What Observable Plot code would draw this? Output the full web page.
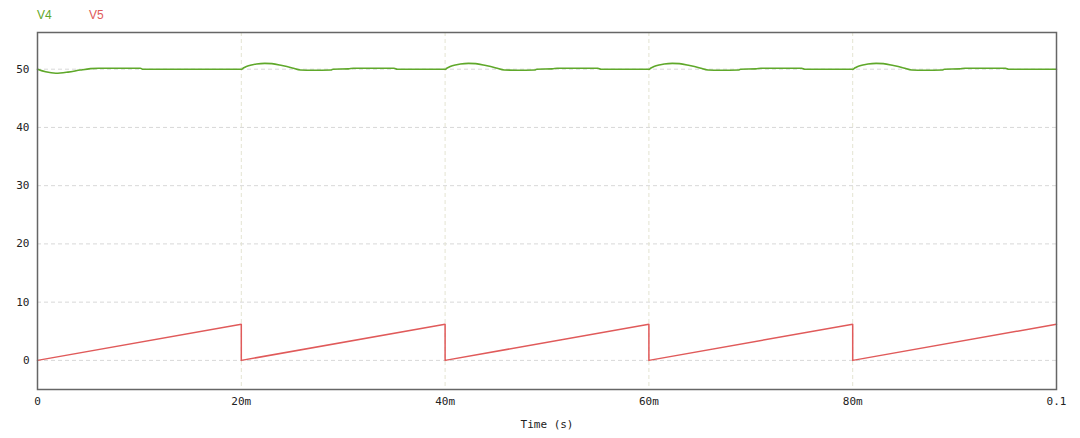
<!DOCTYPE html>
<html><head><meta charset="utf-8">
<script src="https://cdn.jsdelivr.net/npm/d3@7"></script>
<script src="https://cdn.jsdelivr.net/npm/@observablehq/plot@0.6"></script>
<style>
body{margin:0;background:#fff;}
#legend{height:26px;position:relative;font-family:"Liberation Sans","DejaVu Sans",sans-serif;font-size:12px;}
#legend span{position:absolute;top:8px;}
</style></head>
<body>
<div id="legend"></div>
<div id="chart"></div>
<script>
const seriesNames = ["V4", "V5"];
const seriesColors = ["#5fa82a", "#e05a5a"];
const xTicks = [0, 0.02, 0.04, 0.06, 0.08, 0.1];
const xTickLabels = ["0", "20m", "40m", "60m", "80m", "0.1"];
const yTicks = [0, 10, 20, 30, 40, 50];
const xLabel = "Time (s)";

// V4 (time s, volts)
const v4Time = [
  0, 0.0008, 0.0018, 0.003, 0.0042, 0.0052, 0.006, 0.0101, 0.0103, 0.02,
  0.0202, 0.0205, 0.021, 0.0215, 0.0223, 0.023, 0.024, 0.025, 0.0258, 0.027, 0.0288, 0.029, 0.0305, 0.031, 0.035, 0.0353, 0.04,
  0.0402, 0.0405, 0.041, 0.0415, 0.0423, 0.043, 0.044, 0.045, 0.0458, 0.047, 0.0488, 0.049, 0.0505, 0.051, 0.055, 0.0553, 0.06,
  0.0602, 0.0605, 0.061, 0.0615, 0.0623, 0.063, 0.064, 0.065, 0.0658, 0.067, 0.0688, 0.069, 0.0705, 0.071, 0.075, 0.0753, 0.08,
  0.0802, 0.0805, 0.081, 0.0815, 0.0823, 0.083, 0.084, 0.085, 0.0858, 0.087, 0.0888, 0.089, 0.0905, 0.091, 0.095, 0.0953, 0.1
];
const v4Value = [
  50.0, 49.55, 49.3, 49.5, 49.85, 50.1, 50.17, 50.17, 50.0, 50.0,
  50.2, 50.45, 50.72, 50.9, 51.0, 50.95, 50.62, 50.22, 49.86, 49.82, 49.86, 50.0, 50.05, 50.16, 50.16, 50.0, 50.0,
  50.2, 50.45, 50.72, 50.9, 51.0, 50.95, 50.62, 50.22, 49.86, 49.82, 49.86, 50.0, 50.05, 50.16, 50.16, 50.0, 50.0,
  50.2, 50.45, 50.72, 50.9, 51.0, 50.95, 50.62, 50.22, 49.86, 49.82, 49.86, 50.0, 50.05, 50.16, 50.16, 50.0, 50.0,
  50.2, 50.45, 50.72, 50.9, 51.0, 50.95, 50.62, 50.22, 49.86, 49.82, 49.86, 50.0, 50.05, 50.16, 50.16, 50.0, 50.0
];

// V5 sawtooth (time s, volts)
const v5Time = [0, 0.02, 0.02, 0.04, 0.04, 0.06, 0.06, 0.08, 0.08, 0.1];
const v5Value = [0, 6.2, 0, 6.2, 0, 6.2, 0, 6.2, 0, 6.2];

const v4 = v4Time.map((t, i) => ({t, v: v4Value[i]}));
const v5 = v5Time.map((t, i) => ({t, v: v5Value[i]}));

const legend = document.getElementById("legend");
seriesNames.forEach((n, i) => {
  const s = document.createElement("span");
  s.textContent = n;
  s.style.color = seriesColors[i];
  s.style.left = (37 + i * 52) + "px";
  legend.appendChild(s);
});

const chart = Plot.plot({
  width: 1080,
  height: 412,
  marginLeft: 37,
  marginRight: 24,
  marginTop: 6,
  marginBottom: 49,
  style: {fontFamily: "'DejaVu Sans Mono', monospace", fontSize: "11px", color: "#222", background: "#fff"},
  x: {domain: [0, 0.1], ticks: xTicks, tickFormat: (d, i) => xTickLabels[xTicks.indexOf(d)], tickSize: 0, tickPadding: 8, label: null},
  y: {domain: [-5, 56.3], ticks: yTicks, tickSize: 0, tickPadding: 8, label: null},
  marks: [
    Plot.ruleY(yTicks, {stroke: "#d8d8d8", strokeDasharray: "4,3", strokeWidth: 1}),
    Plot.ruleX(xTicks.slice(1, -1), {stroke: "#e4e4d2", strokeDasharray: "4,3", strokeWidth: 1}),
    Plot.line(v4, {x: "t", y: "v", stroke: seriesColors[0], strokeWidth: 1.6, curve: "monotone-x"}),
    Plot.line(v5, {x: "t", y: "v", stroke: seriesColors[1], strokeWidth: 1.5, curve: "linear"}),
    Plot.frame({stroke: "#666", strokeWidth: 1.5}),
    Plot.text([xLabel], {frameAnchor: "bottom", dy: 38, fontFamily: "'DejaVu Sans Mono', monospace", fontSize: 11, fill: "#222"})
  ]
});
document.getElementById("chart").appendChild(chart);
</script>
</body></html>
